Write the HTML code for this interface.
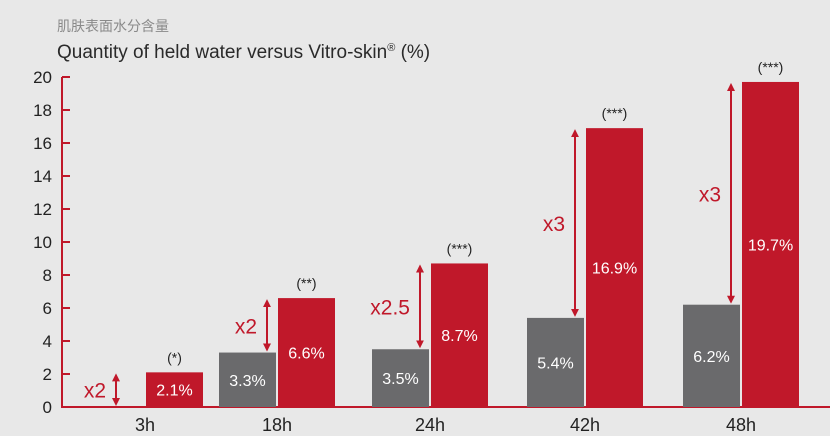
<!DOCTYPE html>
<html><head><meta charset="utf-8"><style>
body{margin:0;background:#e8e8e8;}
svg{display:block;font-family:"Liberation Sans","Noto Sans CJK SC",sans-serif;}
</style></head><body>
<svg id="c" width="830" height="436" viewBox="0 0 830 436">
<rect width="830" height="436" fill="#e8e8e8"/>
<text x="57" y="31" font-size="14" fill="#8a8a8a">肌肤表面水分含量</text>
<text x="57" y="58" font-size="19" fill="#2a2a2a">Quantity of held water versus Vitro-skin<tspan font-size="11" dy="-7">®</tspan><tspan dy="7"> (%)</tspan></text>
<defs><marker id="ah" markerWidth="8" markerHeight="8" refX="4" refY="4" orient="auto-start-reverse" markerUnits="userSpaceOnUse"><path d="M0,0 L8,4 L0,8 Z" fill="#c0182a"/></marker></defs>
<g id="g"></g>
</svg>
<script>
const categories=["3h","18h","24h","42h","48h"];
const controlValues=[null,3.3,3.5,5.4,6.2];
const treatedValues=[2.1,6.6,8.7,16.9,19.7];
const multipliers=["x2","x2","x2.5","x3","x3"];
const significance=["(*)","(**)","(***)","(***)","(***)"];
const yTicks=[0,2,4,6,8,10,12,14,16,18,20];
const y0=407,yTop=77,yMax=20;
const y=v=>y0-(v/yMax)*(y0-yTop);
const groupX=i=>[145,277,430,585,741][i];
const bw=57;
const g=document.getElementById('g');
const NS="http://www.w3.org/2000/svg";
function mk(t,a,txt){const e=document.createElementNS(NS,t);for(const k in a)e.setAttribute(k,a[k]);if(txt!=null)e.textContent=txt;g.appendChild(e);return e;}
const red="#c0182a",gray="#6a6a6c";
// axes
let e=mk('line',{x1:62,y1:yTop,x2:62,y2:y0,stroke:red,'stroke-width':2});


e=mk('line',{x1:61,y1:y0,x2:830,y2:y0,stroke:red,'stroke-width':2});


yTicks.forEach(t=>{
 let l=mk('line',{x1:62,y1:y(t),x2:70,y2:y(t),stroke:red,'stroke-width':2});
 
 
 let tx=mk('text',{x:52,y:y(t)+6,'font-size':17,fill:'#222','text-anchor':'end'},t);
 
 
});
categories.forEach((c,i)=>{
 const cx=groupX(i);
 const gv=controlValues[i],rv=treatedValues[i];
 if(gv!=null){
  let r=mk('rect',{x:cx-bw-1,y:y(gv),width:bw,height:y0-y(gv),fill:gray});
  
  
  let t=mk('text',{x:cx-1-bw/2,y:(y(gv)+y0)/2+6,'font-size':16,fill:'#fff','text-anchor':'middle'},gv.toFixed(1)+'%');
  
  
 }
 let r=mk('rect',{x:cx+1,y:y(rv),width:bw,height:y0-y(rv),fill:red});
 
 
 let t=mk('text',{x:cx+1+bw/2,y:(y(rv)+y0)/2+6,'font-size':16,fill:'#fff','text-anchor':'middle'},rv.toFixed(1)+'%');
 
 
 let s=mk('text',{x:cx+1+bw/2,y:y(rv)-10,'font-size':14,fill:'#222','text-anchor':'middle'},significance[i]);
 
 
 let xl=mk('text',{x:cx,y:431,'font-size':18,fill:'#222','text-anchor':'middle'},c);
 
 
 const ax=i===0?cx-29:cx-10;
 const top=y(rv)+1,bot=y(gv==null?0:gv)-1;
 let a=mk('line',{x1:ax,y1:top+4,x2:ax,y2:bot-4,stroke:red,'stroke-width':2,'marker-start':'url(#ah)','marker-end':'url(#ah)'});
 
 
 const m=mk('text',{x:ax-10,y:(top+bot)/2+8,'font-size':21,fill:red,'text-anchor':'end'},multipliers[i]);
 
 
});
</script>
</body></html>
